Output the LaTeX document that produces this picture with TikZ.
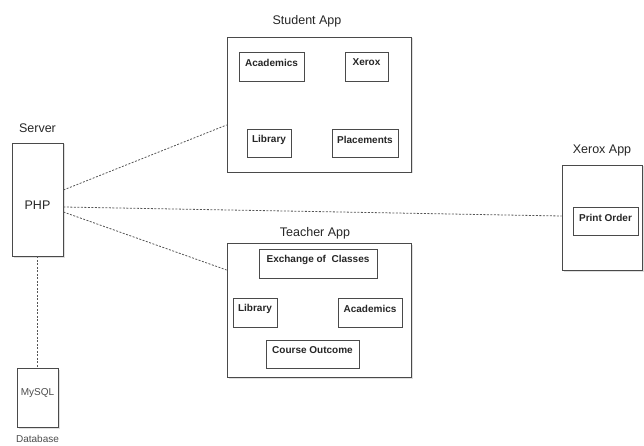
\documentclass[tikz,border=0pt]{standalone}
\usepackage{fontspec}
\setmainfont{Liberation Sans}
\usetikzlibrary{shadows}
\definecolor{edge}{HTML}{4A4A4A}
\definecolor{dots}{HTML}{555555}
\tikzset{
  outerbox/.style={draw=edge, line width=0.8pt, fill=white, inner sep=0pt,
    drop shadow={shadow xshift=1.5pt, shadow yshift=-1.5pt, opacity=0.25, fill=gray}},
  innerbox/.style={draw=edge, line width=0.8pt, fill=white, inner sep=0pt,
    drop shadow={shadow xshift=1.2pt, shadow yshift=-1.2pt, opacity=0.25, fill=gray}},
  ttl/.style={font=\fontsize{12.5}{14}\selectfont, text=black!85},
  itxt/.style={font=\bfseries\fontsize{10}{12}\selectfont, text=black!85},
  conn/.style={draw=dots, line width=0.8pt, dash pattern=on 2pt off 1.5pt},
}
\newcommand{\ibox}[6]{% name, x1, y1, x2, y2, text
  \node[innerbox, minimum width=#4-#2, minimum height=#5-#3] (#1) at ({(#2+#4)/2},{(#3+#5)/2}) {};
  \node[itxt, anchor=center] (#1t) at ({(#2+#4)/2},{#3+10.5}) {#6};
}
\begin{document}
\begin{tikzpicture}[x=1pt, y=-1pt]
\useasboundingbox (0,0) rectangle (644,446);

% Student App
\node[ttl] (sat) at (307,21) {Student App};
\node[outerbox, minimum width=184, minimum height=135] (sa) at (319,104.5) {};
\ibox{sacad}{239}{52}{304}{81}{Academics}
\ibox{saxer}{345}{52}{388}{81}{Xerox}
\ibox{salib}{247}{129}{291}{157}{Library}
\ibox{saplc}{332}{129}{398}{157}{Placements}

% Teacher App
\node[ttl] (tat) at (315,233) {Teacher App};
\node[outerbox, minimum width=184, minimum height=134] (ta) at (319,310) {};
\ibox{taexc}{259}{249}{377}{278}{Exchange of\ \ Classes}
\ibox{talib}{233}{298}{277}{327}{Library}
\ibox{taacd}{338}{298}{402}{327}{Academics}
\ibox{tacou}{266}{340}{359}{368}{Course Outcome}

% Xerox App
\node[ttl] (xat) at (602,150) {Xerox App};
\node[outerbox, minimum width=80, minimum height=105] (xa) at (602,217.5) {};
\ibox{xprt}{573}{207}{638}{235}{Print Order}

% Server
\node[ttl] (svt) at (37.5,128) {Server};
\node[outerbox, minimum width=51, minimum height=113] (sv) at (37.5,199.5) {};
\node[font=\fontsize{12.5}{14}\selectfont, text=black!85] (php) at (37.5,205) {PHP};

% Database
\node[outerbox, minimum width=41, minimum height=59] (db) at (37.5,397.5) {};
\node[font=\fontsize{10}{12}\selectfont, text=black!70] (mysql) at (37.5,393) {MySQL};
\node[font=\fontsize{10}{12}\selectfont, text=black!70] (dbt) at (37.5,438.5) {Database};

% connectors
\draw[conn] ([yshift=9.5pt]sv.east) -- ([yshift=-20.5pt]sa.west);
\draw[conn] ([yshift=-7.5pt]sv.east) -- ([yshift=1.5pt]xa.west);
\draw[conn] ([yshift=-12.5pt]sv.east) -- ([yshift=40pt]ta.west);
\draw[conn] (sv.south) -- (db.north);
\end{tikzpicture}
\end{document}
